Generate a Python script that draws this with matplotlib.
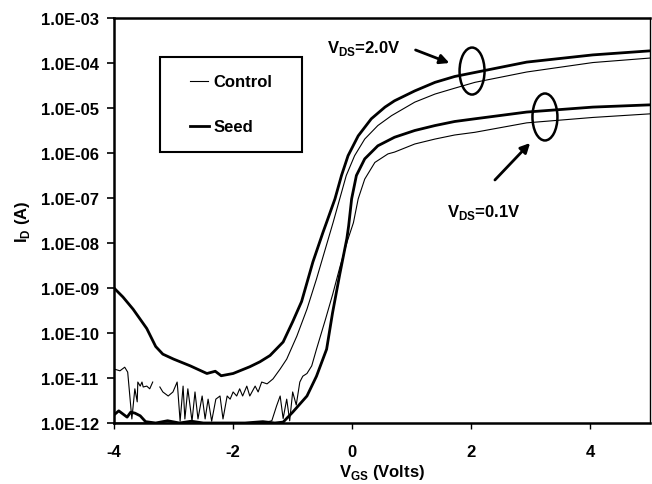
import numpy as np
import matplotlib
matplotlib.use("Agg")
import matplotlib.pyplot as plt
from matplotlib.patches import Ellipse, Rectangle
from matplotlib.lines import Line2D

plt.rcParams['font.family'] = ['Liberation Sans', 'DejaVu Sans']
plt.rcParams['font.weight'] = 'bold'
plt.rcParams['mathtext.fontset'] = 'custom'
plt.rcParams['mathtext.rm'] = 'Liberation Sans:bold'
plt.rcParams['mathtext.bf'] = 'Liberation Sans:bold'

# ---------------- data (VGS in volts, log10 of ID in amps) ----------------
seed_2v_vgs = [-4.00, -3.85, -3.68, -3.45, -3.30, -3.18, -3.00, -2.72, -2.44, -2.30,
               -2.20, -2.00, -1.72, -1.55, -1.38, -1.16, -1.00, -0.85, -0.66, -0.49,
               -0.43, -0.29, -0.18, -0.07, 0.10, 0.32, 0.55, 0.71, 1.05, 1.39,
               1.72, 2.06, 2.93, 4.04, 5.00]
seed_2v_log = [-9.00, -9.20, -9.47, -9.90, -10.30, -10.47, -10.58, -10.73, -10.90, -10.85,
               -10.95, -10.90, -10.75, -10.64, -10.50, -10.20, -9.75, -9.30, -8.42, -7.76,
               -7.54, -7.02, -6.50, -6.06, -5.62, -5.24, -4.98, -4.84, -4.62, -4.43,
               -4.30, -4.21, -3.98, -3.82, -3.73]

ctrl_2v_vgs = [-4.00, -3.90, -3.82, -3.77, -3.70, -3.65, -3.61, -3.60, -3.56, -3.53,
               -3.51, -3.45, -3.40, -3.35, -3.30, -3.23, -3.18, -3.09, -3.01, -2.94,
               -2.93, -2.89, -2.84, -2.81, -2.76, -2.69, -2.64, -2.59, -2.52, -2.47,
               -2.42, -2.36, -2.29, -2.22, -2.17, -2.10, -2.05, -2.00, -1.94, -1.89,
               -1.84, -1.77, -1.72, -1.63, -1.58, -1.52, -1.43, -1.33, -1.21, -1.10,
               -0.93, -0.76, -0.60, -0.50, -0.32, -0.21, -0.10, 0.04, 0.21, 0.43,
               0.66, 1.05, 1.39, 1.72, 2.06, 2.93, 4.04, 5.00]
ctrl_2v_log = [-10.80, -10.84, -10.76, -10.87, -11.91, -11.24, -11.53, -11.09, -11.18, -11.09,
               -11.20, -11.18, -11.24, -11.09, np.nan, -11.20, -11.31, -11.40, -11.31, -11.09,
               -11.24, -11.96, -11.18, -11.91, -11.24, -11.96, -11.31, -11.91, -11.40, -11.91,
               -11.47, -11.96, -11.47, -11.40, -11.91, -11.40, -11.47, -11.31, -11.40, -11.24,
               -11.40, -11.18, -11.40, -11.18, -11.31, -11.09, -11.13, -11.02, -10.80, -10.58,
               -10.07, -9.47, -8.80, -8.35, -7.54, -7.02, -6.50, -6.06, -5.69, -5.39,
               -5.17, -4.87, -4.69, -4.56, -4.43, -4.20, -3.99, -3.89]

seed_01v_vgs = [-4.00, -3.92, -3.85, -3.78, -3.72, -3.65, -3.56, -3.47, -3.30, -3.10,
                -2.90, -2.70, -2.50, -2.20, -1.80, -1.50, -1.30, -1.16, -1.00, -0.76,
                -0.60, -0.43, -0.33, -0.21, -0.09, -0.06, -0.01, 0.07, 0.21, 0.43,
                0.71, 1.05, 1.39, 1.72, 2.06, 2.93, 4.04, 5.00]
seed_01v_log = [-11.82, -11.73, -11.80, -11.87, -11.76, -11.78, -11.84, -11.97, -12.00, -11.95,
                -12.00, -11.96, -12.00, -12.00, -12.00, -11.97, -12.00, -11.98, -11.76, -11.40,
                -10.96, -10.36, -9.55, -8.70, -7.90, -7.62, -7.02, -6.50, -6.13, -5.84,
                -5.65, -5.50, -5.39, -5.30, -5.24, -5.09, -4.98, -4.93]

ctrl_01v_vgs = [-4.00, -3.00, -2.00, -1.50, -1.35, -1.27, -1.21, -1.16, -1.10, -1.05,
                -1.00, -0.94, -0.88, -0.83, -0.76, -0.68, -0.60, -0.45, -0.33, -0.21,
                -0.08, 0.02, 0.10, 0.21, 0.38, 0.60, 0.71, 1.05, 1.39, 1.72,
                2.06, 2.93, 4.04, 5.00]
ctrl_01v_log = [-12.00, -12.00, -12.00, -12.00, -11.95, -11.62, -11.40, -11.90, -11.47, -11.95,
                -11.31, -11.60, -11.09, -10.96, -10.90, -10.73, -10.36, -9.70, -9.15, -8.55,
                -7.95, -7.55, -7.02, -6.58, -6.21, -6.02, -5.98, -5.80, -5.69, -5.60,
                -5.54, -5.33, -5.21, -5.13]

xticks = [-4, -2, 0, 2, 4]
yticks = [1e-12, 1e-11, 1e-10, 1e-9, 1e-8, 1e-7, 1e-6, 1e-5, 1e-4, 1e-3]
ytick_labels = ['1.0E-12', '1.0E-11', '1.0E-10', '1.0E-09', '1.0E-08',
                '1.0E-07', '1.0E-06', '1.0E-05', '1.0E-04', '1.0E-03']

# ---------------- figure ----------------
fig = plt.figure(figsize=(6.52, 4.85), dpi=100)
ax = fig.add_axes([114/652, 1-424/485, 536/652, 405/485])

thick = 2.0
thin = 0.8
ax.plot(seed_2v_vgs, 10**np.array(seed_2v_log), color='black', lw=thick)
ax.plot(ctrl_2v_vgs, 10**np.array(ctrl_2v_log), color='black', lw=thin)
ax.plot(seed_01v_vgs, 10**np.array(seed_01v_log), color='black', lw=thick)
ax.plot(ctrl_01v_vgs, 10**np.array(ctrl_01v_log), color='black', lw=thin)

ax.set_yscale('log')
ax.set_xlim(-4, 5)
ax.set_ylim(1e-12, 1e-3)
ax.set_xticks(xticks)
ax.set_xticklabels([str(t) for t in xticks])
ax.set_yticks(yticks)
ax.set_yticklabels(ytick_labels)
ax.yaxis.set_minor_locator(matplotlib.ticker.NullLocator())
ax.tick_params(axis='y', direction='out', length=5, width=1.2, pad=6, labelsize=12)
ax.tick_params(axis='x', direction='out', length=4, width=1.0, pad=11, labelsize=12)
for lab in ax.get_xticklabels() + ax.get_yticklabels():
    lab.set_fontweight('bold')

for side in ['left', 'bottom', 'top']:
    ax.spines[side].set_linewidth(1.8)
ax.spines['right'].set_linewidth(1.0)

ax.set_xlabel(r'V$_{\mathrm{GS}}$ (Volts)', fontsize=12, fontweight='bold', labelpad=2)
ax.set_ylabel(r'I$_{\mathrm{D}}$ (A)', fontsize=12, fontweight='bold', labelpad=6)

# legend (drawn as a box with sample lines)
ax.add_patch(Rectangle((0.0858, 0.669), 0.2649, 0.2347, transform=ax.transAxes,
                       fill=True, facecolor='white', edgecolor='black', lw=1.5, zorder=5))
ax.add_line(Line2D([0.1418, 0.1754], [0.8444, 0.8444], transform=ax.transAxes,
                   color='black', lw=thin, zorder=6))
ax.add_line(Line2D([0.1418, 0.1780], [0.7333, 0.7333], transform=ax.transAxes,
                   color='black', lw=thick, zorder=6))
ax.text(0.1850, 0.8444, 'Control', transform=ax.transAxes, fontsize=12,
        fontweight='bold', va='center', ha='left', zorder=6)
ax.text(0.1850, 0.7333, 'Seed', transform=ax.transAxes, fontsize=12,
        fontweight='bold', va='center', ha='left', zorder=6)

# annotations
ax.add_patch(Ellipse((0.668, 0.869), 0.0466, 0.116, transform=ax.transAxes,
                     fill=False, edgecolor='black', lw=1.8))
ax.add_patch(Ellipse((0.804, 0.7556), 0.0466, 0.116, transform=ax.transAxes,
                     fill=False, edgecolor='black', lw=1.8))
ax.annotate('', xy=(0.6306, 0.8864), xytext=(0.5578, 0.9235), xycoords='axes fraction',
            arrowprops=dict(arrowstyle='-|>', color='black', lw=2, mutation_scale=14))
ax.annotate('', xy=(0.7799, 0.6963), xytext=(0.7071, 0.5951), xycoords='axes fraction',
            arrowprops=dict(arrowstyle='-|>', color='black', lw=2, mutation_scale=14))
ax.text(0.466, 0.928, r'V$_{\mathrm{DS}}$=2.0V', transform=ax.transAxes, fontsize=12,
        fontweight='bold', ha='center', va='center')
ax.text(0.690, 0.521, r'V$_{\mathrm{DS}}$=0.1V', transform=ax.transAxes, fontsize=12,
        fontweight='bold', ha='center', va='center')

fig.savefig('out.png', dpi=100)
